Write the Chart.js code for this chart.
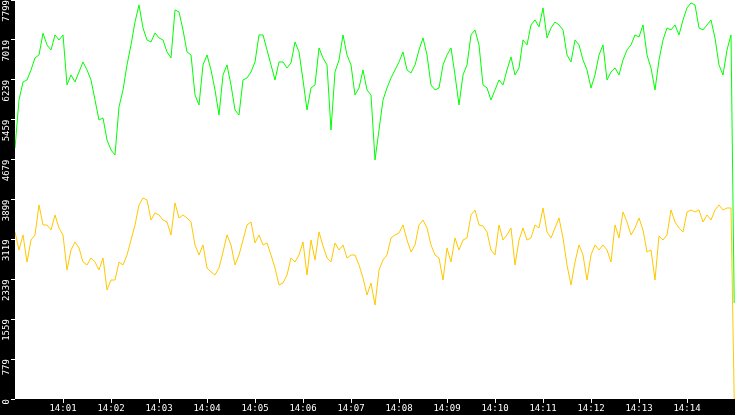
<!DOCTYPE html>
<html>
<head>
<meta charset="utf-8">
<script src="https://cdn.jsdelivr.net/npm/chart.js@4/dist/chart.umd.min.js"></script>
<style>
  html, body { margin: 0; padding: 0; background: #000; }
  #wrap { width: 735px; height: 415px; }
</style>
</head>
<body>
<div id="wrap"><canvas id="chart"></canvas></div>
<script>
// --- data ---
const startHour = 14;
const sampleSeconds = 5;      // one reading every 5 s from 14:00:00
const lastSecond = 899;       // the final reading, 14:14:59
const minuteTicks = [1, 2, 3, 4, 5, 6, 7, 8, 9, 10, 11, 12, 13, 14];

const greenValues = [
  4907, 5845, 6197, 6236, 6432, 6667, 6725, 7150, 6921, 6823,
  7116, 7018, 7116, 6139, 6334, 6197, 6393, 6588, 6432, 6236,
  5845, 5454, 5494, 5063, 4868, 4770, 5709, 6041, 6530, 6921,
  7370, 7703, 7253, 7018, 6979, 7155, 7058, 7018, 6784, 6667,
  7605, 7566, 7214, 6784, 6725, 5943, 5748, 6530, 6725, 6432,
  6041, 5552, 6334, 6530, 6139, 5650, 5552, 6236, 6276,
  6393, 6588, 7116, 7116, 6823, 6530, 6236, 6588, 6588, 6471,
  6569, 6979, 6784, 6236, 5650, 6080, 6139, 6862, 6667, 6530,
  5259, 6393, 6627, 7116, 6725, 6530, 5943, 6080, 6432, 6041,
  5943, 4672, 5259, 5845, 6080, 6276, 6432, 6588, 6784, 6432,
  6373, 6530, 6823, 7058, 6725, 6139, 6041, 6080, 6530, 6725,
  6862, 6334, 5748, 6334, 6530, 7116, 7214, 6921, 6139,
  6080, 5845, 6041, 6236, 6139, 6432, 6686, 6334, 6471, 7018,
  6921, 7312, 7409, 7273, 7644, 7058, 7253, 7370, 7312, 7214,
  6725, 6588, 7018, 6921, 6627, 6432, 6080, 6334, 6725, 6921,
  6236, 6393, 6471, 6334, 6627, 6823, 6921, 7116, 7077, 7312,
  6725, 6471, 6041, 6627, 7018, 7253, 7214, 7312, 7116, 7409,
  7644, 7742, 7703, 7253, 7214, 7312, 7409, 7058, 6530, 6334,
  6823, 7116,
  1877
];

const yellowValues = [
  3265, 2913, 3206, 2678, 3108, 3206, 3793, 3402, 3402, 3304,
  3597, 3343, 3206, 2522, 2913, 3069, 2952, 2678, 2620, 2757,
  2678, 2522, 2757, 2131, 2326, 2326, 2678, 2620, 2815, 3108,
  3402, 3793, 3930, 3890, 3499, 3636, 3597, 3499, 3460, 3206,
  3832, 3539, 3597, 3539, 3460, 3011, 2815, 3011, 2561, 2483,
  2424, 2561, 2874, 3206, 3011, 2620, 2815, 3108, 3402,
  3460, 3050, 3206, 3011, 3050, 2815, 2561, 2229, 2268, 2424,
  2757, 2678, 2815, 3069, 2424, 3108, 2717, 3265, 2991, 2757,
  2678, 3050, 2913, 3011, 2757, 2815, 2815, 2620, 2366, 2033,
  2268, 1837, 2522, 2717, 2815, 3148, 3206, 3245, 3402, 3108,
  2874, 3011, 3402, 3499, 3343, 3011, 2815, 2757, 2326, 2952,
  2678, 3148, 2913, 3108, 3148, 3597, 3695, 3402, 3382,
  3265, 2913, 2815, 3402, 3108, 3206, 3343, 2620, 3108, 3343,
  3108, 3148, 3402, 3343, 3734, 3265, 3148, 3343, 3539, 3148,
  2620, 2229, 2678, 3011, 2815, 2326, 2815, 3011, 2913, 3011,
  2913, 2678, 3402, 3148, 3656, 3460, 3206, 3343, 3539, 3304,
  2874, 2913, 2326, 3187, 3108, 3206, 3695, 3460, 3343, 3265,
  3656, 3695, 3656, 3695, 3460, 3597, 3499, 3695, 3793, 3695,
  3734, 3734,
  0
];

const yMax = 7799.5;
const yStep = 779.95;

function toPoints(values) {
  return values.map((v, i) => ({
    x: i === values.length - 1 ? lastSecond : i * sampleSeconds,
    y: v
  }));
}

// fond noir autour, zone de tracé blanche
const panelPlugin = {
  id: 'panel',
  beforeDraw(chart) {
    const { ctx, chartArea } = chart;
    ctx.save();
    ctx.fillStyle = '#000';
    ctx.fillRect(0, 0, chart.width, chart.height);
    ctx.fillStyle = '#fff';
    ctx.fillRect(chartArea.left, chartArea.top,
      chartArea.right - chartArea.left, chartArea.bottom - chartArea.top);
    ctx.restore();
  }
};

const tickFont = { family: 'DejaVu Sans Mono', size: 9 };

new Chart(document.getElementById('chart'), {
  type: 'line',
  data: {
    datasets: [
      { label: 'green', data: toPoints(greenValues), borderColor: '#00ff00' },
      { label: 'yellow', data: toPoints(yellowValues), borderColor: '#ffc800' }
    ]
  },
  options: {
    responsive: true,
    maintainAspectRatio: false,
    animation: false,
    devicePixelRatio: 1,
    layout: { padding: 0 },
    elements: {
      point: { radius: 0 },
      line: { borderWidth: 1, tension: 0 }
    },
    plugins: { legend: { display: false }, tooltip: { enabled: false } },
    scales: {
      x: {
        type: 'linear',
        min: 0,
        max: 900,
        border: { display: false },
        grid: { drawOnChartArea: false, tickLength: 4, color: '#fff' },
        ticks: {
          stepSize: 60,
          autoSkip: false,
          maxRotation: 0,
          padding: 0,
          color: '#fff',
          font: tickFont,
          callback: v => startHour + ':' + String(v / 60).padStart(2, '0')
        },
        afterBuildTicks: s => {
          s.ticks = minuteTicks.map(m => ({ value: m * 60 }));
        },
        afterFit: s => {
          s.height = 16;
          s.paddingLeft = 0;
          s.paddingRight = 0;
        }
      },
      y: {
        min: 0,
        max: yMax,
        border: { display: false },
        grid: { drawOnChartArea: false, tickLength: 4, color: '#fff' },
        ticks: {
          stepSize: yStep,
          autoSkip: false,
          minRotation: 90,
          maxRotation: 90,
          padding: 4,
          color: '#fff',
          font: tickFont,
          callback: v => String(Math.floor(v + 0.001))
        },
        afterFit: s => {
          s.width = 15;
          s.paddingTop = 0;
          s.paddingBottom = 0;
        }
      }
    }
  },
  plugins: [panelPlugin]
});
</script>
</body>
</html>
